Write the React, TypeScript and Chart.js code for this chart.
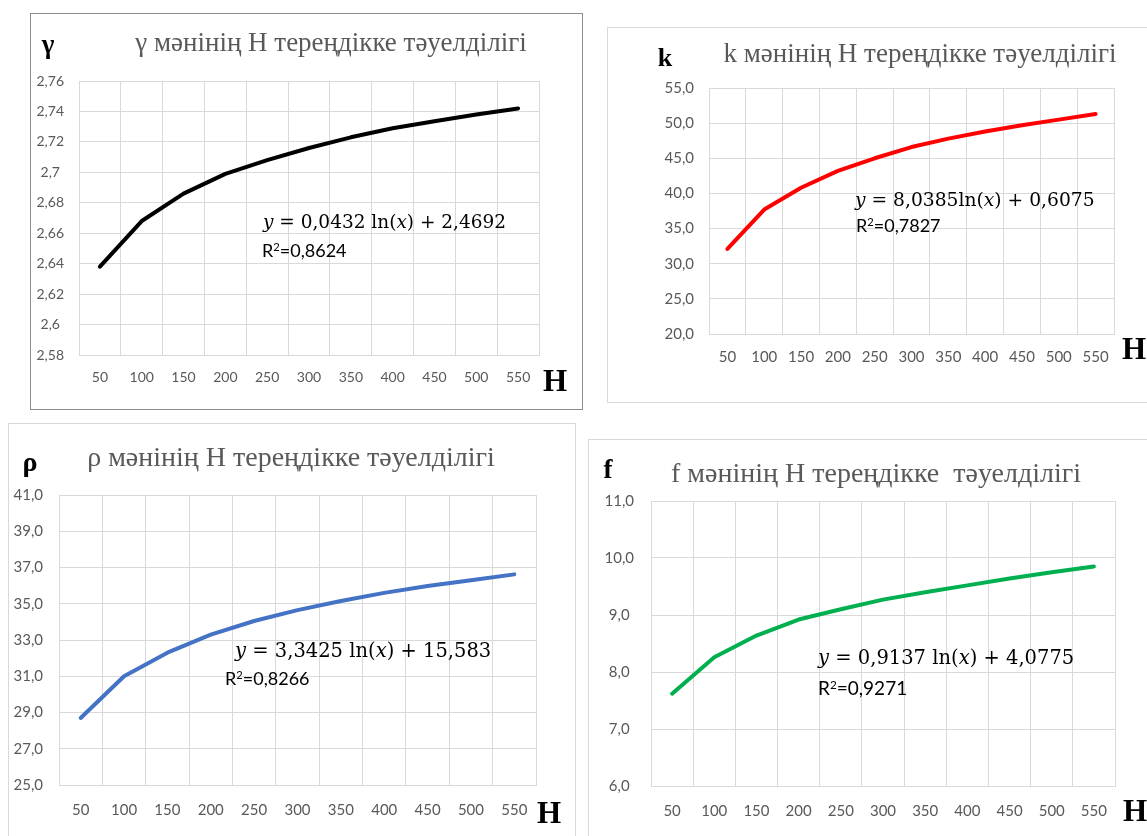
import React, { useEffect, useRef } from "react";
import { Chart, registerables } from "chart.js";

Chart.register(...registerables);

// ---------- data ----------
const depthLabels = ["50", "100", "150", "200", "250", "300", "350", "400", "450", "500", "550"];

const gammaValues = [2.638, 2.668, 2.686, 2.699, 2.708, 2.716, 2.723, 2.729, 2.7335, 2.738, 2.742];
const kValues = [32.1, 37.7, 40.8, 43.2, 45.0, 46.6, 47.8, 48.8, 49.7, 50.5, 51.3];
const rhoValues = [28.7, 31.0, 32.3, 33.3, 34.05, 34.65, 35.15, 35.6, 35.98, 36.3, 36.62];
const fValues = [7.62, 8.26, 8.64, 8.92, 9.1, 9.27, 9.4, 9.52, 9.64, 9.75, 9.85];

const gammaTicks = [2.58, 2.6, 2.62, 2.64, 2.66, 2.68, 2.7, 2.72, 2.74, 2.76];
const kTicks = [20, 25, 30, 35, 40, 45, 50, 55];
const rhoTicks = [25, 27, 29, 31, 33, 35, 37, 39, 41];
const fTicks = [6, 7, 8, 9, 10, 11];

const titleSuffix = " мәнінің Н тереңдікке тәуелділігі";

const fmtGeneral = (v: number) => String(Number(v.toFixed(4))).replace(".", ",");
const fmtOne = (v: number) => v.toFixed(1).replace(".", ",");

type PanelProps = {
  frame: { left: number; top: number; width: number; height: number };
  canvasW: number;
  canvasH: number;
  plot: { left: number; top: number; right: number; bottom: number }; // canvas coords
  values: number[];
  ticks: number[];
  fmt: (v: number) => string;
  color: string;
  tickSize: number;
  xPad: number;
  yPad: number;
  borderColor: string;
};

function Panel(p: PanelProps) {
  const ref = useRef<HTMLCanvasElement>(null);
  useEffect(() => {
    if (!ref.current) return;
    const yAxisW = p.plot.left;
    const xAxisH = 40;
    const tickFont = { family: "Lato, 'Open Sans', sans-serif", size: p.tickSize };
    const chart = new Chart(ref.current, {
      type: "line",
      data: {
        labels: depthLabels,
        datasets: [
          {
            data: p.values,
            borderColor: p.color,
            backgroundColor: p.color,
            borderWidth: 4,
            pointRadius: 0,
            tension: 0,
            fill: false,
            borderCapStyle: "round",
            borderJoinStyle: "round",
          },
        ],
      },
      options: {
        responsive: false,
        animation: false,
        devicePixelRatio: 1,
        layout: {
          padding: {
            left: 0,
            right: p.canvasW - p.plot.right,
            top: p.plot.top,
            bottom: p.canvasH - p.plot.bottom - xAxisH,
          },
        },
        plugins: {
          legend: { display: false },
          tooltip: { enabled: false },
          title: { display: false },
        },
        scales: {
          x: {
            type: "category",
            offset: true,
            grid: { offset: true, color: "#d9d9d9", drawTicks: false, lineWidth: 1 },
            border: { display: true, color: "#d9d9d9" },
            ticks: {
              color: "#595959",
              font: tickFont,
              padding: p.xPad,
              autoSkip: false,
              maxRotation: 0,
            },
            afterFit: (s: any) => {
              s.height = xAxisH;
            },
          },
          y: {
            type: "linear",
            min: p.ticks[0],
            max: p.ticks[p.ticks.length - 1],
            grid: { color: "#d9d9d9", drawTicks: false, lineWidth: 1 },
            border: { display: true, color: "#d9d9d9" },
            ticks: {
              color: "#595959",
              font: tickFont,
              padding: p.yPad,
              crossAlign: "center",
              callback: (v: any) => p.fmt(Number(v)),
            },
            afterBuildTicks: (s: any) => {
              s.ticks = p.ticks.map((v) => ({ value: v }));
            },
            afterFit: (s: any) => {
              s.width = yAxisW;
            },
          },
        },
      },
    } as any);
    return () => chart.destroy();
  }, []);
  return (
    <>
      <div
        style={{
          position: "absolute",
          left: p.frame.left,
          top: p.frame.top,
          width: p.frame.width,
          height: p.frame.height,
          border: `1px solid ${p.borderColor}`,
          boxSizing: "border-box",
          background: "#fff",
        }}
      />
      <canvas
        ref={ref}
        width={p.canvasW}
        height={p.canvasH}
        style={{ position: "absolute", left: p.frame.left, top: p.frame.top }}
      />
    </>
  );
}

type TextProps = {
  x: number;
  y: number;
  align?: "center" | "left";
  style?: React.CSSProperties;
  children: React.ReactNode;
};

function T({ x, y, align = "center", style, children }: TextProps) {
  return (
    <div
      style={{
        position: "absolute",
        left: x,
        top: y,
        transform: align === "center" ? "translate(-50%, -50%)" : "translate(0, -50%)",
        whiteSpace: "pre",
        lineHeight: 1,
        ...style,
      }}
    >
      {children}
    </div>
  );
}

const symStyle: React.CSSProperties = {
  fontFamily: "'Liberation Serif', 'Times New Roman', serif",
  fontWeight: "bold",
  color: "#000",
};
const titleStyle: React.CSSProperties = {
  fontFamily: "'Liberation Serif', 'Times New Roman', serif",
  color: "#595959",
  fontSize: 27,
};
const eqStyle: React.CSSProperties = {
  fontFamily: "'DejaVu Serif', serif",
  fontSize: 18.5,
  color: "#000",
};
const r2Style: React.CSSProperties = {
  fontFamily: "Lato, 'Open Sans', sans-serif",
  fontSize: 18,
  color: "#000",
};

function Eq({ a, b, tight }: { a: string; b: string; tight?: boolean }) {
  return (
    <span>
      <i>y</i> = {a}
      {tight ? "" : " "}ln(<i>x</i>) + {b}
    </span>
  );
}

function R2({ v }: { v: string }) {
  return (
    <span>
      R<sup style={{ fontSize: "0.62em", verticalAlign: "0.5em", lineHeight: 0 }}>2</sup>={v}
    </span>
  );
}

export default function App() {
  return (
    <div
      style={{
        position: "absolute",
        left: 0,
        top: 0,
        width: 1147,
        height: 836,
        overflow: "hidden",
        background: "#fff",
      }}
    >
      {/* gamma */}
      <Panel
        frame={{ left: 30, top: 13, width: 553, height: 397 }}
        canvasW={552}
        canvasH={396}
        plot={{ left: 49, top: 68, right: 509, bottom: 342 }}
        values={gammaValues}
        ticks={gammaTicks}
        fmt={fmtGeneral}
        color="#000000"
        tickSize={14}
        xPad={14}
        yPad={15}
        borderColor="#8c8c8c"
      />
      {/* k */}
      <Panel
        frame={{ left: 607, top: 27, width: 600, height: 376 }}
        canvasW={540}
        canvasH={375}
        plot={{ left: 102, top: 61, right: 507, bottom: 307 }}
        values={kValues}
        ticks={kTicks}
        fmt={fmtOne}
        color="#ff0000"
        tickSize={15}
        xPad={14}
        yPad={15}
        borderColor="#d9d9d9"
      />
      {/* rho */}
      <Panel
        frame={{ left: 8, top: 423, width: 568, height: 430 }}
        canvasW={567}
        canvasH={413}
        plot={{ left: 51, top: 72, right: 528, bottom: 362 }}
        values={rhoValues}
        ticks={rhoTicks}
        fmt={fmtOne}
        color="#4472c4"
        tickSize={15}
        xPad={16}
        yPad={16}
        borderColor="#d9d9d9"
      />
      {/* f */}
      <Panel
        frame={{ left: 588, top: 439, width: 600, height: 430 }}
        canvasW={559}
        canvasH={397}
        plot={{ left: 63, top: 62, right: 527, bottom: 347 }}
        values={fValues}
        ticks={fTicks}
        fmt={fmtOne}
        color="#00b050"
        tickSize={15}
        xPad={16}
        yPad={17}
        borderColor="#d9d9d9"
      />

      {/* gamma texts */}
      <T x={48} y={44} style={{ ...symStyle, fontSize: 27 }}>γ</T>
      <T x={331} y={42} style={titleStyle}>{"γ" + titleSuffix}</T>
      <T x={555} y={380} style={{ ...symStyle, fontSize: 31 }}>H</T>
      <T x={263} y={222} align="left" style={eqStyle}><Eq a="0,0432" b="2,4692" /></T>
      <T x={262} y={250} align="left" style={r2Style}><R2 v="0,8624" /></T>

      {/* k texts */}
      <T x={665} y={58} style={{ ...symStyle, fontSize: 26 }}>k</T>
      <T x={920} y={53} style={titleStyle}>{"k" + titleSuffix}</T>
      <T x={1134} y={348} style={{ ...symStyle, fontSize: 31 }}>H</T>
      <T x={855} y={200} align="left" style={{ ...eqStyle, fontSize: 18.7 }}><Eq a="8,0385" b="0,6075" tight /></T>
      <T x={856} y={225} align="left" style={r2Style}><R2 v="0,7827" /></T>

      {/* rho texts */}
      <T x={30} y={462} style={{ ...symStyle, fontSize: 28 }}>ρ</T>
      <T x={291} y={457} style={{ ...titleStyle, fontSize: 28 }}>{"ρ" + titleSuffix}</T>
      <T x={549} y={812} style={{ ...symStyle, fontSize: 31 }}>H</T>
      <T x={235} y={651} align="left" style={{ ...eqStyle, fontSize: 19.5 }}><Eq a="3,3425" b="15,583" /></T>
      <T x={225} y={678} align="left" style={r2Style}><R2 v="0,8266" /></T>

      {/* f texts */}
      <T x={608} y={469} style={{ ...symStyle, fontSize: 27 }}>f</T>
      <T x={876} y={473} style={{ ...titleStyle, fontSize: 28 }}>{"f мәнінің Н тереңдікке  тәуелділігі"}</T>
      <T x={1135} y={810} style={{ ...symStyle, fontSize: 31 }}>H</T>
      <T x={818} y={658} align="left" style={{ ...eqStyle, fontSize: 19.5 }}><Eq a="0,9137" b="4,0775" /></T>
      <T x={818} y={687} align="left" style={{ ...r2Style, fontSize: 19 }}><R2 v="0,9271" /></T>
    </div>
  );
}
